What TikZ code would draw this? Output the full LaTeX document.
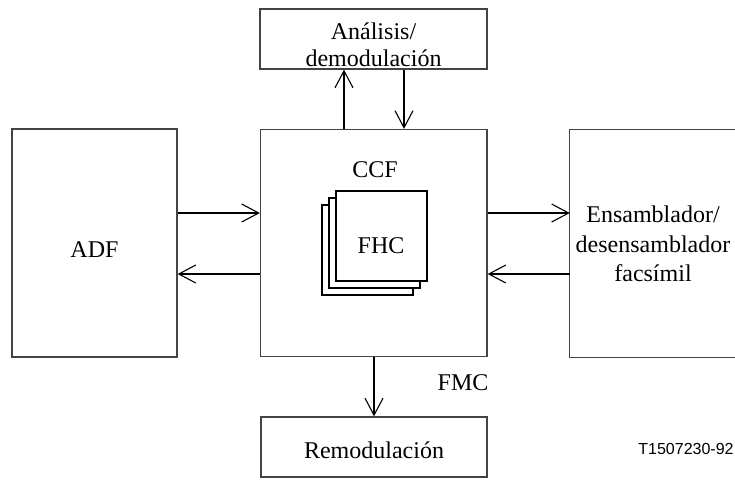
\documentclass[tikz,border=0pt]{standalone}
\usepackage{fontspec}
\setmainfont{Liberation Serif}
\newfontfamily\labelsans{Liberation Sans}
\usetikzlibrary{arrows.meta}
\definecolor{edge}{HTML}{444444}
\tikzset{
  blockbox/.style={draw=edge, line width=1.3pt, rectangle, inner sep=0pt, fill=white},
  flow/.style={line width=2pt, -{Straight Barb[length=17pt,width=18pt,line width=1.1pt]}},
  lbl/.style={font=\fontsize{24}{28}\selectfont, inner sep=0pt, anchor=base},
  sheet/.style={draw=black, line width=1.3pt, fill=white, minimum width=91pt, minimum height=90pt, inner sep=0pt}
}
\begin{document}
\begin{tikzpicture}[x=1pt, y=-1pt]
\useasboundingbox (0,0) rectangle (735,480);

% main blocks
\node[blockbox, minimum width=165pt, minimum height=228pt] (adf) at (94.5,243) {};
\node[blockbox, minimum width=226.5pt, minimum height=227pt] (ccf) at (373.75,243) {};
\node[blockbox, minimum width=227pt, minimum height=60pt] (ana) at (373.5,39) {};
\node[blockbox, minimum width=226pt, minimum height=60pt] (rem) at (374,447) {};
% assembler block runs off the right edge: three sides only
\node[inner sep=0pt, minimum width=170pt, minimum height=227pt] (ens) at (655,243.5) {};
\draw[draw=edge, line width=1.3pt] (ens.north east) -- (ens.north west) -- (ens.south west) -- (ens.south east);

% stacked FHC sheets
\node[sheet] (fhc3) at (367.5,250) {};
\node[sheet] (fhc2) at (374.5,243) {};
\node[sheet] (fhc1) at (381.5,236) {};

% labels
\node[lbl] (adft) at (94.5,257) {ADF};
\node[lbl] (ccft) at (375,177) {CCF};
\node[lbl] (fhct) at (381,253) {FHC};
\node[lbl] (ana1) at (373.5,39) {Análisis/};
\node[lbl] (ana2) at (373.5,66) {demodulación};
\node[lbl] (ens1) at (653,222) {Ensamblador/};
\node[lbl] (ens2) at (653,252) {desensamblador};
\node[lbl] (ens3) at (653,281) {facsímil};
\node[lbl] (fmct) at (463,390) {FMC};
\node[lbl] (remt) at (374,458) {Remodulación};
\node[inner sep=0pt, anchor=base, font=\labelsans\fontsize{16}{19}\selectfont] (code) at (686,454) {T1507230-92};

% connectors
\draw[flow] (adf.east |- 0,213) -- (ccf.west |- 0,213);
\draw[flow] (ccf.west |- 0,274) -- (adf.east |- 0,274);
\draw[flow] (ccf.east |- 0,213) -- (ens.west |- 0,213);
\draw[flow] (ens.west |- 0,274) -- (ccf.east |- 0,274);
\draw[flow] (ccf.north -| 344,0) -- (ana.south -| 344,0);
\draw[flow] (ana.south -| 404,0) -- (ccf.north -| 404,0);
\draw[flow] (ccf.south -| 374,0) -- (rem.north -| 374,0);
\end{tikzpicture}
\end{document}
